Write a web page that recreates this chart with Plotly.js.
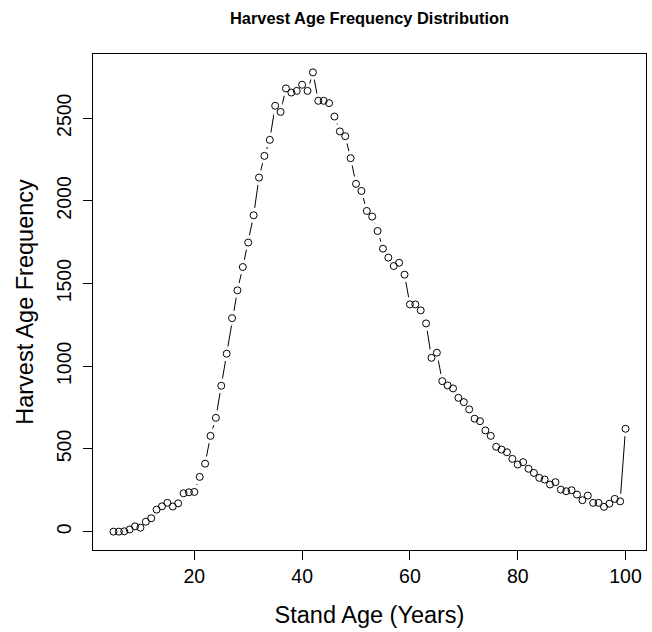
<!DOCTYPE html>
<html>
<head>
<meta charset="utf-8">
<script src="https://cdn.plot.ly/plotly-3.0.1.min.js"></script>
<style>html,body{margin:0;padding:0;background:#fff;}#chart{width:652px;height:632px;}</style>
</head>
<body>
<div id="chart"></div>
<script>
// Stand age (years)
const standAge = [5,6,7,8,9,10,11,12,13,14,15,16,17,18,19,20,21,22,23,24,25,26,27,28,29,30,
  31,32,33,34,35,36,37,38,39,40,41,42,43,44,45,46,47,48,49,50,51,52,53,54,55,56,57,58,59,60,
  61,62,63,64,65,66,67,68,69,70,71,72,73,74,75,76,77,78,79,80,81,82,83,84,85,86,87,88,89,90,
  91,92,93,94,95,96,97,98,99,100];
// Harvest age frequency
const harvestFreq = [0,0,2,13,32,24,60,81,133,153,174,152,171,232,238,240,331,411,579,688,882,1076,1291,1459,1600,1748,
  1913,2141,2272,2369,2575,2538,2680,2655,2665,2702,2665,2777,2605,2605,2591,2510,2420,2391,2258,2103,2060,1939,1905,1818,1711,1657,1606,1626,1554,1374,
  1374,1338,1259,1051,1082,910,884,866,809,783,739,683,668,612,579,513,496,480,440,406,420,380,355,325,315,285,299,254,244,250,
  224,190,218,174,174,150,169,198,183,622];
const xTicks = [20,40,60,80,100];
const yTicks = [0,500,1000,1500,2000,2500];

function padRange(a){const lo=Math.min(...a),hi=Math.max(...a),d=(hi-lo)*0.04;return [lo-d,hi+d];}

const FONT = 'Liberation Sans, Arial, Helvetica, sans-serif';

const traces = [
  {x: standAge, y: harvestFreq, type: 'scatter', mode: 'lines',
   line: {color: '#000', width: 1}, hoverinfo: 'skip', showlegend: false},
  {x: standAge, y: harvestFreq, type: 'scatter', mode: 'markers',
   marker: {color: '#fff', size: 15, line: {width: 0}}, hoverinfo: 'skip', showlegend: false},
  {x: standAge, y: harvestFreq, type: 'scatter', mode: 'markers',
   marker: {symbol: 'circle-open', color: '#000', size: 7, line: {width: 1, color: '#000'}},
   hoverinfo: 'skip', showlegend: false}
];

const layout = {
  width: 652, height: 632,
  margin: {l: 93.3, r: 6, t: 54.3, b: 81.7, pad: 0},
  paper_bgcolor: '#fff', plot_bgcolor: '#fff',
  font: {family: FONT, color: '#000'},
  showlegend: false,
  title: {text: 'Harvest Age Frequency Distribution', font: {family: FONT, size: 16.4, weight: 'bold', color: '#000'},
          x: 0.5, xref: 'paper', xanchor: 'center', y: 1 - 18/632, yref: 'container', yanchor: 'middle'},
  xaxis: {
    range: padRange(standAge), tickvals: xTicks, ticktext: xTicks.map(String),
    showgrid: false, zeroline: false, showline: true, mirror: true, linecolor: '#000', linewidth: 1,
    ticks: 'outside', ticklen: 9, tickwidth: 1, tickcolor: '#000',
    tickfont: {family: FONT, size: 19.5, color: '#000'},
    title: {text: 'Stand Age (Years)', font: {family: FONT, size: 23.5, color: '#000'}, standoff: 20},
    automargin: true
  },
  yaxis: {
    range: padRange(harvestFreq), tickvals: yTicks, ticktext: yTicks.map(String),
    showgrid: false, zeroline: false, showline: true, mirror: true, linecolor: '#000', linewidth: 1,
    ticks: 'outside', ticklen: 9, tickwidth: 1, tickcolor: '#000', tickangle: -90,
    ticklabelstandoff: 4,
    tickfont: {family: FONT, size: 19.5, color: '#000'},
    title: {text: 'Harvest Age Frequency', font: {family: FONT, size: 23.5, color: '#000'}, standoff: 12},
    automargin: true
  }
};

Plotly.newPlot('chart', traces, layout, {staticPlot: true, displayModeBar: false});
</script>
</body>
</html>
